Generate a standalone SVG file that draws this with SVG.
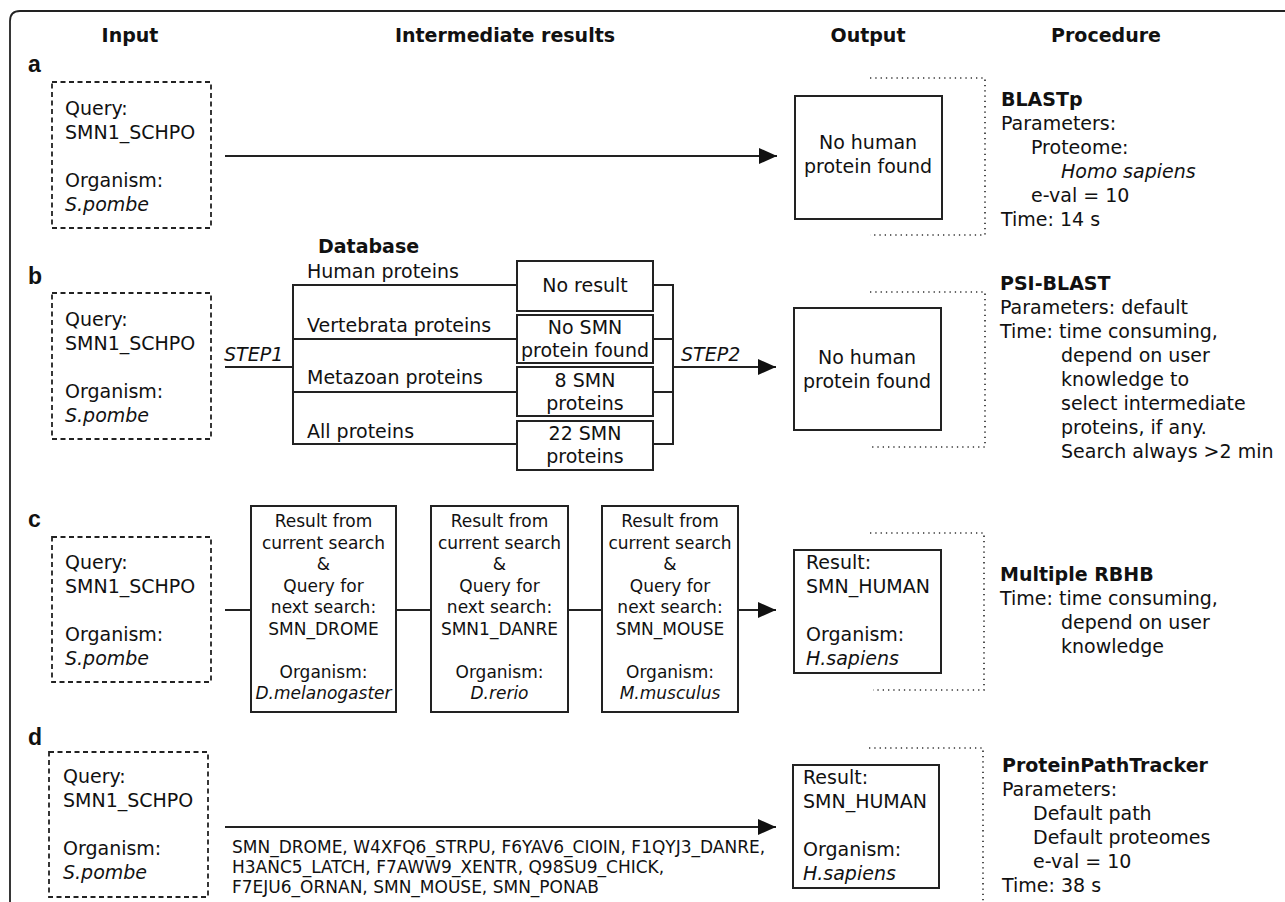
<svg xmlns="http://www.w3.org/2000/svg" width="1285" height="902" viewBox="0 0 1285 902">
<defs>
<style>
text{font-family:"DejaVu Sans","Noto Sans",sans-serif;font-size:19px;fill:#111}
.b{font-weight:bold}
.i{font-style:italic}
.m{text-anchor:middle}
.s{font-size:17px}
.lbl{font-family:"Liberation Sans",Arial,sans-serif;font-weight:bold;font-size:23px}
.dash{fill:none;stroke:#222;stroke-width:1.8;stroke-dasharray:5 3.5}
.box{fill:#fff;stroke:#222;stroke-width:2}
.dot{fill:none;stroke:#333;stroke-width:1.7;stroke-dasharray:1.3 4}
.ln{fill:none;stroke:#222;stroke-width:2}
</style>
<marker id="ah" markerUnits="userSpaceOnUse" markerWidth="18" markerHeight="16" refX="18" refY="8" orient="auto">
<path d="M0,0 L18,8 L0,16 z" fill="#111"/>
</marker>
</defs>
<rect width="1285" height="902" fill="#fff"/>
<path d="M10 902 V21 Q10 11 20 11 H1285" fill="none" stroke="#222" stroke-width="1.8"/>

<g id="headers">
<text class="b m" x="130" y="42">Input</text>
<text class="b m" x="505" y="42">Intermediate results</text>
<text class="b m" x="868" y="42">Output</text>
<text class="b m" x="1106" y="42">Procedure</text>
</g>

<g id="panel-labels">
<text class="lbl" x="28" y="72">a</text>
<text class="lbl" x="28" y="284">b</text>
<text class="lbl" x="28" y="527">c</text>
<text class="lbl" x="28" y="745">d</text>
</g>

<g id="connectors">
<line class="ln" x1="225" y1="156" x2="777" y2="156" marker-end="url(#ah)"/>
<line class="ln" x1="225" y1="367" x2="293" y2="367"/>
<line class="ln" x1="293" y1="285" x2="293" y2="444"/>
<line class="ln" x1="292" y1="285" x2="517" y2="285"/>
<line class="ln" x1="292" y1="339" x2="517" y2="339"/>
<line class="ln" x1="292" y1="392" x2="517" y2="392"/>
<line class="ln" x1="292" y1="444" x2="517" y2="444"/>
<line class="ln" x1="653" y1="285" x2="674" y2="285"/>
<line class="ln" x1="653" y1="339" x2="674" y2="339"/>
<line class="ln" x1="653" y1="392" x2="674" y2="392"/>
<line class="ln" x1="653" y1="444" x2="674" y2="444"/>
<line class="ln" x1="673" y1="284" x2="673" y2="445"/>
<line class="ln" x1="673" y1="367" x2="776" y2="367" marker-end="url(#ah)"/>
<text class="i" x="224" y="361">STEP1</text>
<text class="i" x="681" y="361">STEP2</text>
<line class="ln" x1="225" y1="610" x2="251" y2="610"/>
<line class="ln" x1="396" y1="610" x2="431" y2="610"/>
<line class="ln" x1="568" y1="610" x2="602" y2="610"/>
<line class="ln" x1="738" y1="610" x2="776" y2="610" marker-end="url(#ah)"/>
<line class="ln" x1="225" y1="827" x2="776" y2="827" marker-end="url(#ah)"/>
<text class="s" x="232" y="853">SMN_DROME, W4XFQ6_STRPU, F6YAV6_CIOIN, F1QYJ3_DANRE,</text>
<text class="s" x="232" y="873">H3ANC5_LATCH, F7AWW9_XENTR, Q98SU9_CHICK,</text>
<text class="s" x="232" y="893">F7EJU6_ORNAN, SMN_MOUSE, SMN_PONAB</text>
</g>

<g id="input-a">
<rect class="dash" x="52" y="82" width="159" height="146"/>
<text x="65" y="115">Query:</text>
<text x="65" y="139">SMN1_SCHPO</text>
<text x="65" y="187">Organism:</text>
<text class="i" x="65" y="211">S.pombe</text>
</g>
<g id="output-a">
<rect class="box" x="795" y="96" width="147" height="123"/>
<text class="m" x="868" y="149">No human</text>
<text class="m" x="868" y="173">protein found</text>
<path class="dot" d="M870 78 H985 V235 H870"/>
</g>
<g id="procedure-a">
<text class="b" x="1001" y="106">BLASTp</text>
<text x="1001" y="130">Parameters:</text>
<text x="1031" y="154">Proteome:</text>
<text class="i" x="1061" y="178">Homo sapiens</text>
<text x="1031" y="202">e-val = 10</text>
<text x="1001" y="226">Time: 14 s</text>
</g>

<g id="input-b">
<rect class="dash" x="52" y="293" width="159" height="146"/>
<text x="65" y="326">Query:</text>
<text x="65" y="350">SMN1_SCHPO</text>
<text x="65" y="398">Organism:</text>
<text class="i" x="65" y="422">S.pombe</text>
</g>
<g id="database-b">
<text class="b" x="318" y="253">Database</text>
<text x="307" y="278">Human proteins</text>
<text x="307" y="332">Vertebrata proteins</text>
<text x="307" y="384">Metazoan proteins</text>
<text x="307" y="438">All proteins</text>
</g>
<g id="result-b1">
<rect class="box" x="517" y="261" width="136" height="50"/>
<text class="m" x="585" y="292">No result</text>
</g>
<g id="result-b2">
<rect class="box" x="517" y="315" width="136" height="48"/>
<text class="m" x="585" y="334">No SMN</text>
<text class="m" x="585" y="357">protein found</text>
</g>
<g id="result-b3">
<rect class="box" x="517" y="367" width="136" height="49"/>
<text class="m" x="585" y="387">8 SMN</text>
<text class="m" x="585" y="410">proteins</text>
</g>
<g id="result-b4">
<rect class="box" x="517" y="421" width="136" height="49"/>
<text class="m" x="585" y="440">22 SMN</text>
<text class="m" x="585" y="463">proteins</text>
</g>
<g id="output-b">
<rect class="box" x="794" y="308" width="147" height="122"/>
<text class="m" x="867" y="364">No human</text>
<text class="m" x="867" y="388">protein found</text>
<path class="dot" d="M870 292 H985 V447 H870"/>
</g>
<g id="procedure-b">
<text class="b" x="1000" y="290">PSI-BLAST</text>
<text x="1000" y="314">Parameters: default</text>
<text x="1000" y="338">Time: time consuming,</text>
<text x="1061" y="362">depend on user</text>
<text x="1061" y="386">knowledge to</text>
<text x="1061" y="410">select intermediate</text>
<text x="1061" y="434">proteins, if any.</text>
<text x="1061" y="458">Search always &gt;2 min</text>
</g>

<g id="input-c">
<rect class="dash" x="52" y="537" width="159" height="145"/>
<text x="65" y="569">Query:</text>
<text x="65" y="593">SMN1_SCHPO</text>
<text x="65" y="641">Organism:</text>
<text class="i" x="65" y="665">S.pombe</text>
</g>
<g id="step-c1">
<rect class="box" x="251" y="506" width="145" height="206"/>
<text class="s m" x="323.5" y="527">Result from</text>
<text class="s m" x="323.5" y="548.5">current search</text>
<text class="s m" x="323.5" y="570">&amp;</text>
<text class="s m" x="323.5" y="591.5">Query for</text>
<text class="s m" x="323.5" y="613">next search:</text>
<text class="s m" x="323.5" y="634.5">SMN_DROME</text>
<text class="s m" x="323.5" y="677.5">Organism:</text>
<text class="s m i" x="323.5" y="699">D.melanogaster</text>
</g>
<g id="step-c2">
<rect class="box" x="431" y="506" width="137" height="206"/>
<text class="s m" x="499.5" y="527">Result from</text>
<text class="s m" x="499.5" y="548.5">current search</text>
<text class="s m" x="499.5" y="570">&amp;</text>
<text class="s m" x="499.5" y="591.5">Query for</text>
<text class="s m" x="499.5" y="613">next search:</text>
<text class="s m" x="499.5" y="634.5">SMN1_DANRE</text>
<text class="s m" x="499.5" y="677.5">Organism:</text>
<text class="s m i" x="499.5" y="699">D.rerio</text>
</g>
<g id="step-c3">
<rect class="box" x="602" y="506" width="136" height="206"/>
<text class="s m" x="670" y="527">Result from</text>
<text class="s m" x="670" y="548.5">current search</text>
<text class="s m" x="670" y="570">&amp;</text>
<text class="s m" x="670" y="591.5">Query for</text>
<text class="s m" x="670" y="613">next search:</text>
<text class="s m" x="670" y="634.5">SMN_MOUSE</text>
<text class="s m" x="670" y="677.5">Organism:</text>
<text class="s m i" x="670" y="699">M.musculus</text>
</g>
<g id="output-c">
<rect class="box" x="794" y="550" width="147" height="123"/>
<text x="806" y="569">Result:</text>
<text x="806" y="593">SMN_HUMAN</text>
<text x="806" y="641">Organism:</text>
<text class="i" x="806" y="665">H.sapiens</text>
<path class="dot" d="M870 533 H984 V690 H873"/>
</g>
<g id="procedure-c">
<text class="b" x="1000" y="581">Multiple RBHB</text>
<text x="1000" y="605">Time: time consuming,</text>
<text x="1061" y="629">depend on user</text>
<text x="1061" y="653">knowledge</text>
</g>

<g id="input-d">
<rect class="dash" x="49" y="752" width="159" height="145"/>
<text x="63" y="783">Query:</text>
<text x="63" y="807">SMN1_SCHPO</text>
<text x="63" y="855">Organism:</text>
<text class="i" x="63" y="879">S.pombe</text>
</g>
<g id="output-d">
<rect class="box" x="793" y="765" width="146" height="123"/>
<text x="803" y="784">Result:</text>
<text x="803" y="808">SMN_HUMAN</text>
<text x="803" y="856">Organism:</text>
<text class="i" x="803" y="880">H.sapiens</text>
<path class="dot" d="M869 748 H983 V902"/>
</g>
<g id="procedure-d">
<text class="b" x="1002" y="772">ProteinPathTracker</text>
<text x="1002" y="796">Parameters:</text>
<text x="1033" y="820">Default path</text>
<text x="1033" y="844">Default proteomes</text>
<text x="1033" y="868">e-val = 10</text>
<text x="1002" y="892">Time: 38 s</text>
</g>
</svg>
